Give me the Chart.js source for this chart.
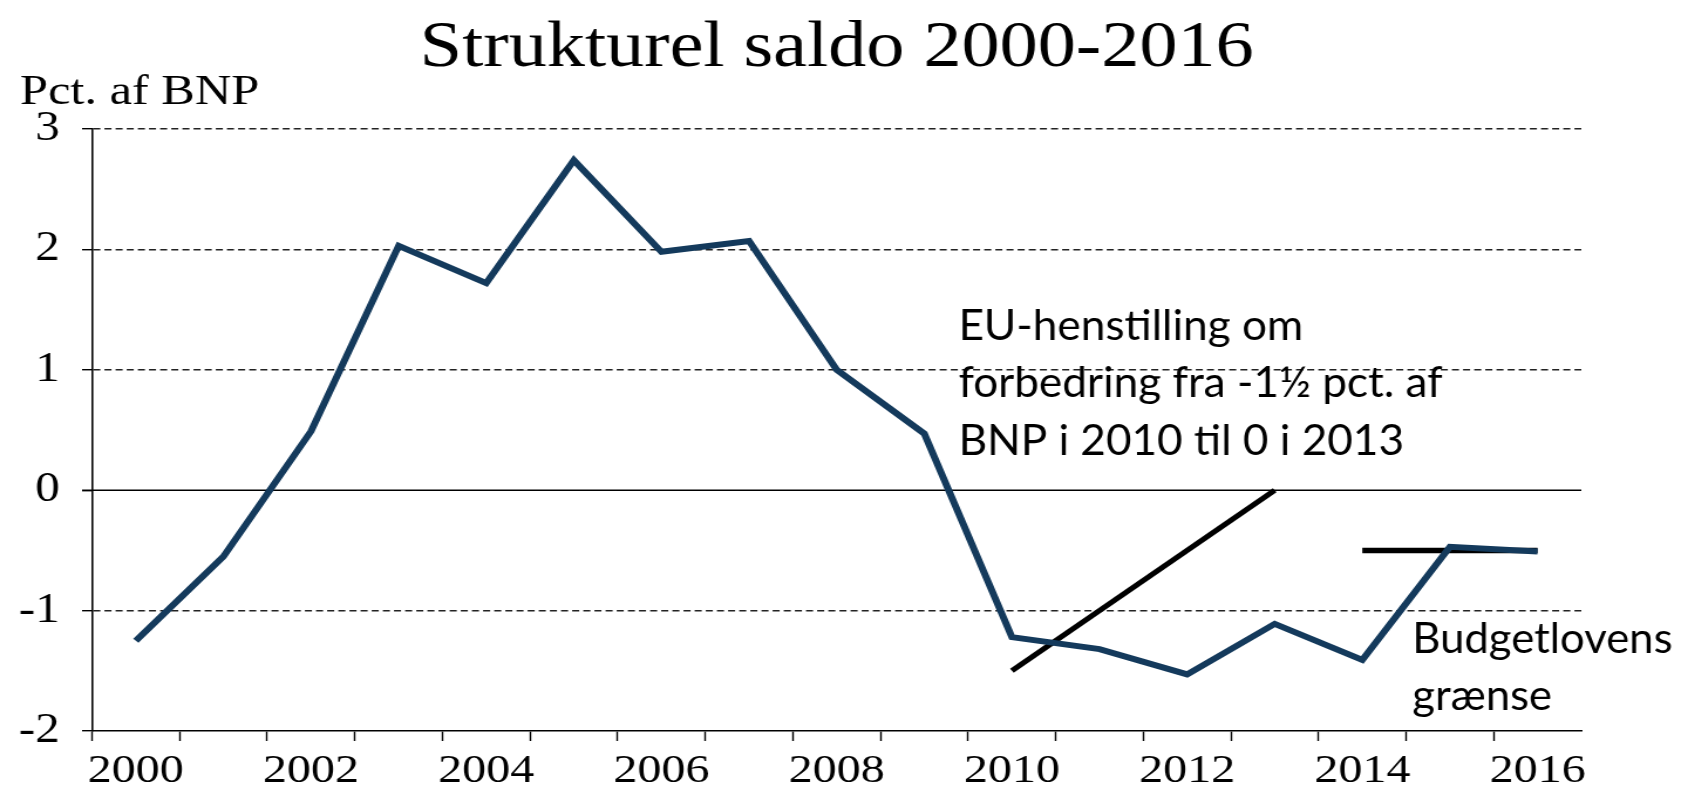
<!DOCTYPE html>
<html><head><meta charset="utf-8">
<script src="https://cdn.jsdelivr.net/npm/chart.js@4.4.1/dist/chart.umd.min.js"></script>
<style>html,body{margin:0;padding:0;background:#fff;overflow:hidden}
#c{display:block;width:1688px;height:785px}</style>
</head><body>
<canvas id="c" width="1440" height="785" style="width:1688px;height:785px"></canvas>
<script>
// ---- data ----
const years = ['2000','2001','2002','2003','2004','2005','2006','2007','2008','2009','2010','2011','2012','2013','2014','2015','2016'];
const saldo = [-1.25, -0.55, 0.49, 2.03, 1.72, 2.74, 1.98, 2.07, 1.0, 0.47, -1.22, -1.32, -1.53, -1.11, -1.41, -0.47, -0.51];
const euTarget = [null,null,null,null,null,null,null,null,null,null,-1.5,null,null,0,null,null,null];
const budgetLimit = [null,null,null,null,null,null,null,null,null,null,null,null,null,null,-0.5,null,-0.5];
const yMin = -2, yMax = 3, yStep = 1;
const titleText = 'Strukturel saldo 2000-2016';
const unitText = 'Pct. af BNP';
const euNote = ['EU-henstilling om', 'forbedring fra -1\u00BD pct. af', 'BNP i 2010 til 0 i 2013'];
const budgetNote = ['Budgetlovens', 'gr\u00E6nse'];

// ---- annotation anchors (in data units) and styles ----
const euNoteAnchor = {x: 9.39, y: [1.25, 0.77, 0.29]};
const budgetNoteAnchor = {x: 14.57, y: [-1.35, -1.825]};
const noteFont = '43px Lato';
const serif = 'Liberation Serif';

function drawFitted(ctx, lines, x, ys, font, refIndex, refWidth) {
  ctx.save();
  ctx.font = font; ctx.fillStyle = '#000';
  ctx.textAlign = 'left'; ctx.textBaseline = 'alphabetic';
  const sx = refWidth / ctx.measureText(lines[refIndex]).width;
  lines.forEach((t, i) => {
    ctx.save(); ctx.translate(x, ys[i]); ctx.scale(sx, 1); ctx.fillText(t, 0, 0); ctx.restore();
  });
  ctx.restore();
}

const decor = {
  id: 'decor',
  beforeDatasetsDraw(chart) {
    const {ctx, chartArea, scales: {y}} = chart;
    const y0 = y.getPixelForValue(0);
    ctx.save();
    ctx.strokeStyle = '#000'; ctx.lineWidth = 1.6;
    ctx.beginPath(); ctx.moveTo(chartArea.left - 8.5, y0); ctx.lineTo(chartArea.right, y0); ctx.stroke();
    ctx.restore();
  },
  afterDatasetsDraw(chart) {
    const {ctx, scales: {x, y}} = chart;
    drawFitted(ctx, euNote, x.getPixelForValue(euNoteAnchor.x), euNoteAnchor.y.map(v => y.getPixelForValue(v)), noteFont, 1, 413);
    drawFitted(ctx, budgetNote, x.getPixelForValue(budgetNoteAnchor.x), budgetNoteAnchor.y.map(v => y.getPixelForValue(v)), noteFont, 0, 222);
  },
  afterDraw(chart) {
    const {ctx, chartArea} = chart;
    ctx.save();
    ctx.fillStyle = '#000'; ctx.textBaseline = 'alphabetic';
    ctx.font = '65px "' + serif + '"'; ctx.textAlign = 'center';
    ctx.fillText(titleText, (chartArea.left + chartArea.right) / 2, 66);
    ctx.font = '43px "' + serif + '"'; ctx.textAlign = 'left';
    ctx.fillText(unitText, 17, 104);
    ctx.restore();
  }
};

new Chart(document.getElementById('c'), {
  type: 'line',
  data: {
    labels: years,
    datasets: [
      {label: 'Strukturel saldo', data: saldo, borderColor: '#143a5c', borderWidth: 6, pointRadius: 0, tension: 0, fill: false, borderJoinStyle: 'miter'},
      {label: 'EU-henstilling', data: euTarget, borderColor: '#000', borderWidth: 5, pointRadius: 0, spanGaps: true, fill: false},
      {label: 'Budgetlovens grænse', data: budgetLimit, borderColor: '#000', borderWidth: 5.5, pointRadius: 0, spanGaps: true, fill: false}
    ]
  },
  options: {
    responsive: false, animation: false, devicePixelRatio: 1,
    layout: {padding: {top: 129, right: 91, left: 0, bottom: 0}},
    plugins: {legend: {display: false}, tooltip: {enabled: false}, title: {display: false}},
    scales: {
      x: {
        type: 'category', offset: true,
        grid: {offset: true, drawOnChartArea: false, drawTicks: true, tickLength: 10, tickWidth: 1.4,
               tickColor: c => c.type === 'tick' ? '#000' : 'rgba(0,0,0,0)'},
        border: {display: true, color: '#000', width: 1.6},
        ticks: {autoSkip: false, maxRotation: 0, minRotation: 0, padding: 6, color: '#000',
                font: {family: serif, size: 41}, callback: (v, i) => i % 2 === 0 ? years[i] : ''},
        afterFit: s => { s.height = 54; }
      },
      y: {
        min: yMin, max: yMax,
        ticks: {stepSize: yStep, padding: 19, color: '#000', font: {family: serif, size: 42}, callback: v => String(v)},
        grid: {color: c => (c.tick && (c.tick.value === 0 || c.tick.value === yMin)) ? 'rgba(0,0,0,0)' : '#222',
               lineWidth: 1.4, drawTicks: true, tickLength: 8.5, tickColor: '#000', tickWidth: 1.4},
        border: {display: true, color: '#000', width: 1.6, dash: [6, 3.5]},
        afterFit: s => { s.width = 78.5; }
      }
    }
  },
  plugins: [decor]
});
</script>
</body></html>
